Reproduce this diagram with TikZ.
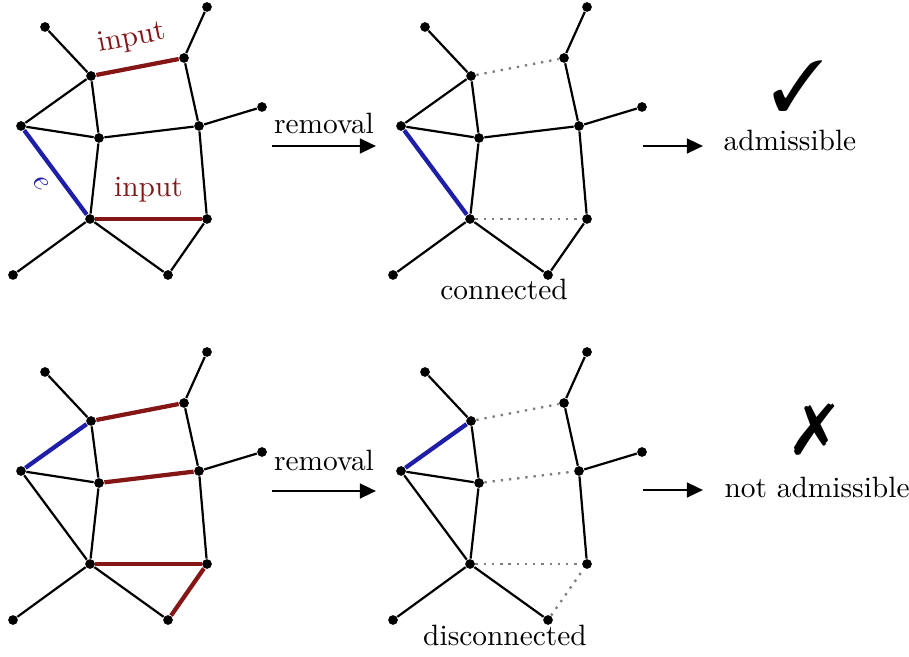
\documentclass[tikz,border=0pt]{standalone}
\usepackage{pifont}
\usetikzlibrary{arrows.meta,positioning}
\definecolor{inred}{RGB}{132,22,22}
\definecolor{eblue}{RGB}{30,30,168}
\tikzset{
  vtx/.style={circle,fill=black,inner sep=0pt,minimum size=3.3pt},
  edge/.style={line width=0.75pt},
  inedge/.style={line width=1.45pt,draw=inred},
  eedge/.style={line width=1.45pt,draw=eblue},
  gone/.style={dotted,gray,line width=0.8pt},
  goes/.style={line width=0.9pt,-{Triangle[length=5.5pt,width=5pt]}},
}
\begin{document}
\begin{tikzpicture}[x=0.34pt,y=-0.34pt]
        \useasboundingbox (0,0) rectangle (909,657);
        % vertices of one copy of the graph: prefix, x shift, y shift
        \def\verts#1#2#3{
          \foreach \n/\px/\py in {a/45/27,b/91/76,c/184/58,d/207/7,f/262/107,g/199/126,
                                  h/21/126,i/99/138,j/90/219,k/207/219,l/13/275,m/168/275}
            \node[vtx] (#1\n) at ({\px+#2},{\py+#3}) {};
        }
        % edges that every copy has
        \def\common#1{
          \foreach \u/\v in {a/b,c/d,c/g,g/f,h/i,b/i,i/j,g/k,j/l,j/m}
            \draw[edge] (#1\u) -- (#1\v);
        }

        \verts{A}{0}{0}
        \verts{B}{380}{0}
        \verts{C}{0}{345}
        \verts{D}{380}{345}
        \common{A} \common{B} \common{C} \common{D}

        % top row
        \draw[edge] (Ah) -- (Ab);
        \draw[edge] (Ai) -- (Ag);
        \draw[edge] (Am) -- (Ak);
        \draw[inedge] (Ab) -- (Ac) node[midway,above=1.5pt,sloped,text=inred] {input};
        \draw[inedge] (Aj) -- (Ak) node[midway,above=1.5pt,text=inred] {input};
        \draw[eedge] (Ah) -- (Aj) node[midway,below,sloped,text=eblue] {$e$};

        \draw[edge] (Bh) -- (Bb);
        \draw[edge] (Bi) -- (Bg);
        \draw[edge] (Bm) -- (Bk);
        \draw[gone] (Bb) -- (Bc);
        \draw[gone] (Bj) -- (Bk);
        \draw[eedge] (Bh) -- (Bj);
        \node[anchor=base] (conn) at (504,300) {connected};

        % bottom row
        \draw[edge] (Ch) -- (Cj);
        \draw[inedge] (Cb) -- (Cc);
        \draw[inedge] (Ci) -- (Cg);
        \draw[inedge] (Cj) -- (Ck);
        \draw[inedge] (Cm) -- (Ck);
        \draw[eedge] (Ch) -- (Cb);

        \draw[edge] (Dh) -- (Dj);
        \draw[gone] (Db) -- (Dc);
        \draw[gone] (Di) -- (Dg);
        \draw[gone] (Dj) -- (Dk);
        \draw[gone] (Dm) -- (Dk);
        \draw[eedge] (Dh) -- (Db);
        \node[anchor=base] (disc) at (505,645) {disconnected};

        % arrows and verdicts
        \coordinate (r1s) at (272,146);
        \coordinate (r1e) at (376,146);
        \draw[goes] (r1s) -- (r1e) node[midway,above=0.5pt] {removal};
        \coordinate (r2s) at (272,491);
        \coordinate (r2e) at (376,491);
        \draw[goes] (r2s) -- (r2e) node[midway,above=3pt] {removal};

        \coordinate (v1s) at (643,146);
        \coordinate (v1e) at (703,146);
        \draw[goes] (v1s) -- (v1e);
        \node[anchor=base west,inner sep=0pt] (adm) at (723,151) {admissible};
        \coordinate (v2s) at (643,490);
        \coordinate (v2e) at (703,490);
        \draw[goes] (v2s) -- (v2e);
        \node[anchor=base west,inner sep=0pt] (nadm) at (724,497) {not admissible};

        \node[] (yes) at (798,86) {\fontsize{24}{24}\selectfont\ding{51}};
        \node[] (no) at (815,430) {\fontsize{24}{24}\selectfont\ding{55}};
\end{tikzpicture}
\end{document}
